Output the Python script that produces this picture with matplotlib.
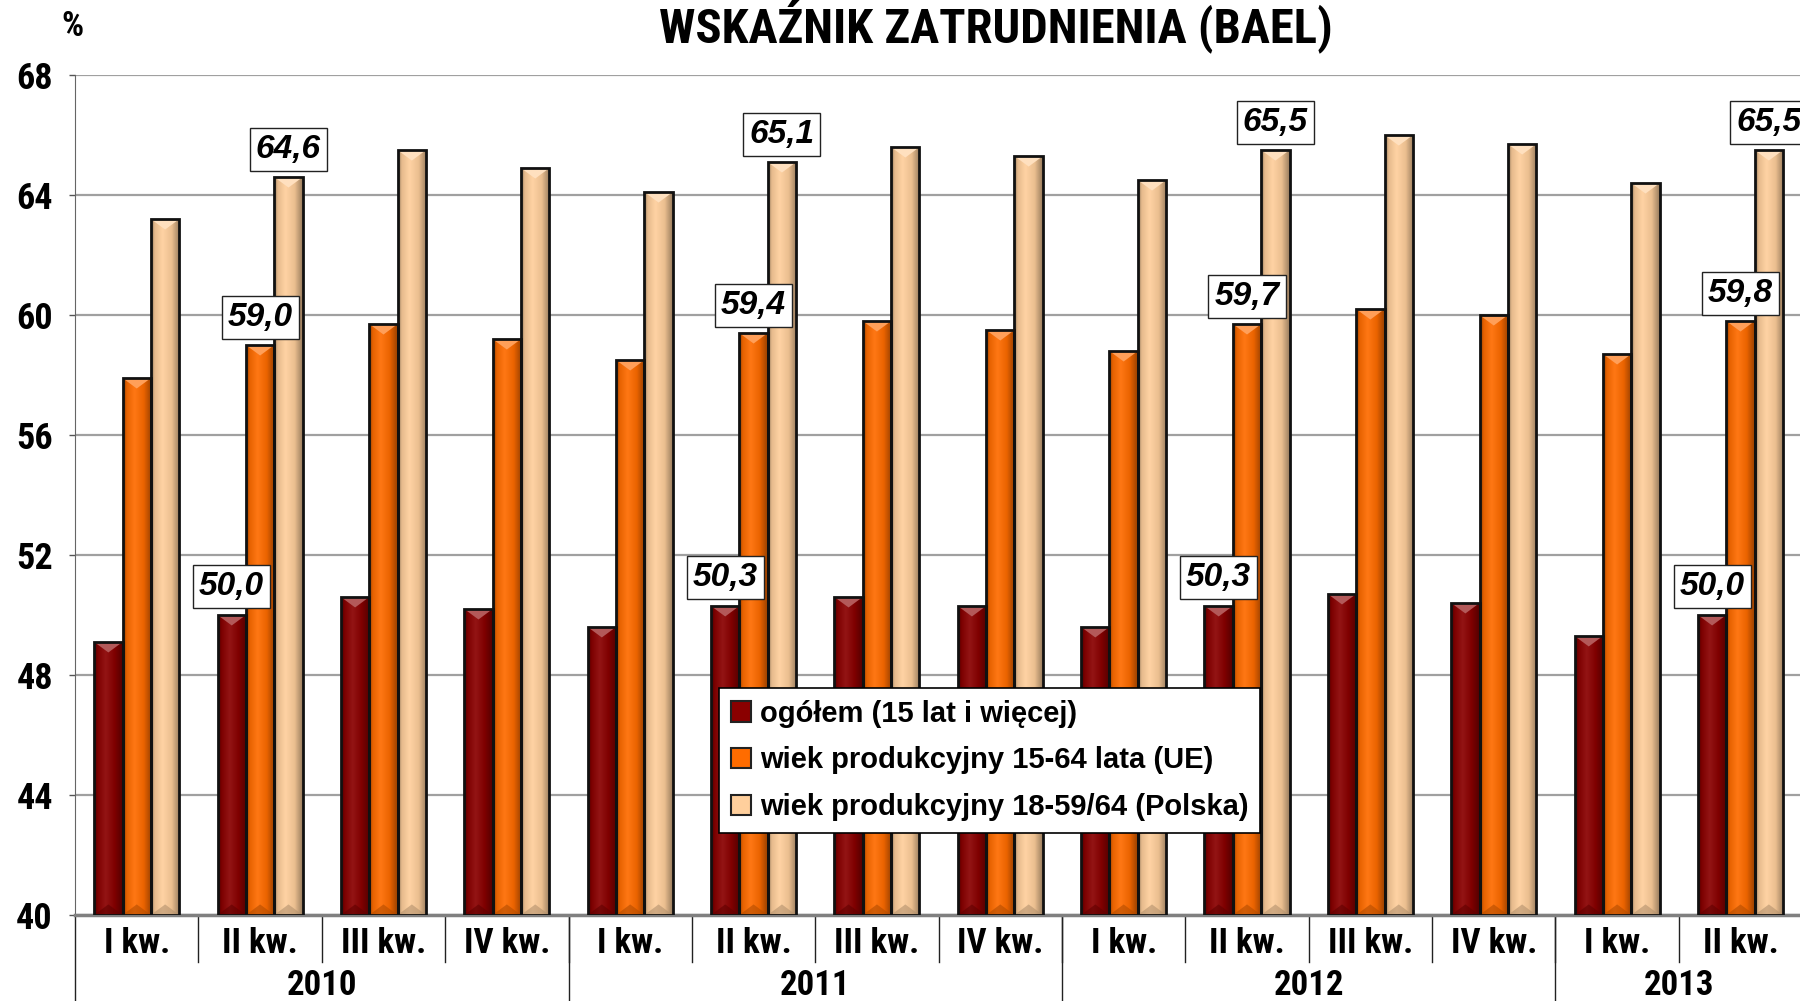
import numpy as np
import matplotlib
matplotlib.use("Agg")
import matplotlib.pyplot as plt
from matplotlib import font_manager
from matplotlib.colors import LinearSegmentedColormap, to_rgb
from matplotlib.patches import Patch, Polygon
from matplotlib.transforms import blended_transform_factory

# data
quarters = ["I kw.", "II kw.", "III kw.", "IV kw.",
            "I kw.", "II kw.", "III kw.", "IV kw.",
            "I kw.", "II kw.", "III kw.", "IV kw.",
            "I kw.", "II kw."]
years = ["2010", "2011", "2012", "2013"]
year_quarters = [4, 4, 4, 2]

ogolem = [49.1, 50.0, 50.6, 50.2, 49.6, 50.3, 50.6, 50.3, 49.6, 50.3, 50.7, 50.4, 49.3, 50.0]
wiek_ue = [57.9, 59.0, 59.7, 59.2, 58.5, 59.4, 59.8, 59.5, 58.8, 59.7, 60.2, 60.0, 58.7, 59.8]
wiek_pl = [63.2, 64.6, 65.5, 64.9, 64.1, 65.1, 65.6, 65.3, 64.5, 65.5, 66.0, 65.7, 64.4, 65.5]

series_names = ["ogółem (15 lat i więcej)",
                "wiek produkcyjny 15-64 lata (UE)",
                "wiek produkcyjny 18-59/64 (Polska)"]
series = [ogolem, wiek_ue, wiek_pl]
colors = ["#8a0000", "#ff6c00", "#ffcf9c"]

# a condensed face if one is installed, otherwise plain Liberation Sans
installed = {f.name for f in font_manager.fontManager.ttflist}
condensed = [n for n in ["Liberation Sans Narrow", "DejaVu Sans Condensed",
                         "Roboto Condensed", "Open Sans Condensed"] if n in installed]
regular = ["Liberation Sans", "DejaVu Sans"]
narrow = condensed[:1] + regular
has_narrow = bool(condensed)
lab_size = 25 if has_narrow else 24
title_size = 35 if has_narrow else 30

fig = plt.figure(figsize=(18, 10.01), dpi=100)
ax = fig.add_axes([0.0417, 0.086, 0.9595, 0.839])

base = 40
bar_w = 0.23
x = np.arange(len(quarters))


def shade(c, f):
    r = np.array(to_rgb(c))
    if f < 1:
        return tuple(r * f)
    return tuple(r + (1 - r) * (f - 1))


for i, (vals, col) in enumerate(zip(series, colors)):
    cmap = LinearSegmentedColormap.from_list(
        "g%d" % i,
        [(0, shade(col, 0.55)), (0.12, shade(col, 0.9)), (0.4, shade(col, 1.08)),
         (0.72, shade(col, 0.92)), (1, shade(col, 0.6))])
    grad = np.linspace(0, 1, 64).reshape(1, -1)
    xs = x + (i - 1) * bar_w
    bars = ax.bar(xs, np.array(vals) - base, bar_w, bottom=base,
                  facecolor="none", edgecolor="#111111", linewidth=2, zorder=4)
    for b, v in zip(bars, vals):
        x0 = b.get_x()
        x1 = x0 + bar_w
        im = ax.imshow(grad, extent=[x0, x1, base, v], aspect="auto",
                       cmap=cmap, zorder=3, interpolation="bilinear")
        im.set_clip_path(b)
        xc = (x0 + x1) / 2
        ax.add_patch(Polygon([(x0, v), (x1, v), (xc, v - 0.35)], closed=True,
                             facecolor=shade(col, 1.35), edgecolor="none", zorder=3.5))
        ax.add_patch(Polygon([(x0, base), (x1, base), (xc, base + 0.35)], closed=True,
                             facecolor=shade(col, 0.7), edgecolor="none", alpha=0.6,
                             zorder=3.5))
    # boxed labels for II kw.
    for j in range(1, len(quarters), 4):
        ax.annotate(("%.1f" % vals[j]).replace(".", ","), (xs[j], vals[j]),
                    xytext=(0, 9), textcoords="offset points", ha="center", va="bottom",
                    fontsize=24, fontweight="bold", fontstyle="italic", family=regular,
                    bbox=dict(boxstyle="square,pad=0.18", facecolor="white",
                              edgecolor="#222222", linewidth=1), zorder=6)

ax.set_xlim(-0.5, len(quarters) - 0.5)
ax.set_ylim(40, 68)
ax.set_yticks(np.arange(40, 69, 4))
ax.set_yticklabels([str(t) for t in range(40, 69, 4)], fontsize=lab_size + 1,
                   fontweight="bold", family=narrow)
ax.tick_params(axis="y", length=4, width=1, pad=12, color="#555555")
ax.set_xticks([])
ax.grid(axis="y", color="#a0a0a0", linewidth=1.6, zorder=0)
ax.set_axisbelow(True)
for s in ["top", "right"]:
    ax.spines[s].set_visible(False)
ax.spines["bottom"].set_color("#808080")
ax.spines["bottom"].set_linewidth(2.5)
ax.spines["left"].set_color("#666666")
ax.spines["left"].set_linewidth(0.8)

# category axis: quarters and years
tr = blended_transform_factory(ax.transData, ax.transAxes)
for j, q in enumerate(quarters):
    ax.text(j, -0.034, q, transform=tr, ha="center", va="center", fontsize=lab_size,
            fontweight="bold", family=narrow)
for j in range(1, len(quarters)):
    ax.plot([j - 0.5, j - 0.5], [0, -0.056], transform=tr, color="#222222",
            linewidth=1, clip_on=False)
start = 0
for yr, n in zip(years, year_quarters):
    ax.plot([start - 0.5, start - 0.5], [0, -0.2], transform=tr, color="#222222",
            linewidth=1, clip_on=False)
    ax.text(start + (n - 1) / 2, -0.084, yr, transform=tr, ha="center", va="center",
            fontsize=lab_size, fontweight="bold", family=narrow)
    start += n

handles = [Patch(facecolor=c, edgecolor="#222222", linewidth=1.5) for c in colors]
leg = ax.legend(handles, series_names, loc="lower left", bbox_to_anchor=(0.373, 0.098),
                prop=dict(family=regular, weight="bold", size=21), frameon=True,
                fancybox=False, framealpha=1, edgecolor="#000000",
                handlelength=0.7, handleheight=0.7, handletextpad=0.3,
                labelspacing=0.64, borderpad=0.4, borderaxespad=0)
leg.get_frame().set_linewidth(1.2)
leg.set_zorder(7)

fig.text(0.553, 0.958, "WSKAŹNIK ZATRUDNIENIA (BAEL)", ha="center", va="baseline",
         fontsize=title_size, fontweight="bold", family=narrow)
fig.text(0.04, 0.974, "%", ha="center", va="center", fontsize=lab_size,
         fontweight="bold", family=narrow)

fig.savefig("out.png", dpi=100)
